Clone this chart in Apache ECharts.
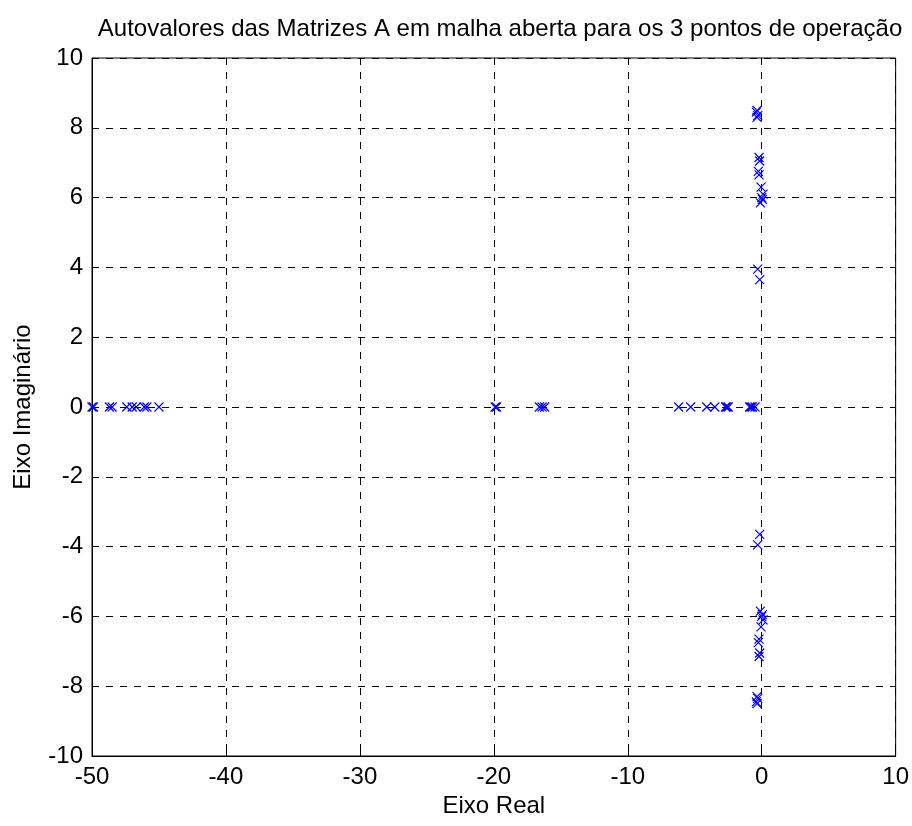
<!DOCTYPE html>
<html>
<head>
<meta charset="utf-8">
<script src="https://cdn.jsdelivr.net/npm/echarts@6/dist/echarts.min.js"></script>
<style>html,body{margin:0;padding:0;background:#fff;}#c{width:912px;height:826px;}</style>
</head>
<body>
<div id="c"></div>
<script>
// Eigenvalues on the real axis (real part)
var realEigs = [-50.0, -49.9, -48.7, -48.5, -47.4, -47.0, -46.7, -46.1, -45.9, -45.0,
  -19.9, -19.8, -16.6, -16.4, -16.2,
  -6.2, -5.3, -4.1, -3.5, -2.7, -2.6, -2.5, -0.9, -0.8, -0.7, -0.5];
// Complex eigenvalues (upper half): real parts and imaginary parts
var cplxReal = [-0.35, -0.4, -0.3, -0.35, -0.2, -0.15, -0.25, -0.2, -0.05, 0.1, 0.0, -0.1, 0.05, -0.3, -0.15];
var cplxImag = [8.5, 8.45, 8.35, 8.3, 7.15, 7.05, 6.75, 6.65, 6.3, 6.1, 6.0, 5.85, 5.95, 3.95, 3.65];
var xTicks = [-50, -40, -30, -20, -10, 0, 10];
var yTicks = [-10, -8, -6, -4, -2, 0, 2, 4, 6, 8, 10];

var pts = [];
realEigs.forEach(function (r) { pts.push([r, 0]); });
cplxReal.forEach(function (r, i) { pts.push([r, cplxImag[i]]); pts.push([r, -cplxImag[i]]); });

var chart = echarts.init(document.getElementById('c'));
var font = 'Liberation Sans, Arial, sans-serif';
chart.setOption({
  animation: false,
  title: {
    text: 'Autovalores das Matrizes A em malha aberta para os 3 pontos de operação',
    left: 495, top: 12, textAlign: 'center',
    textStyle: { fontFamily: font, fontSize: 24, fontWeight: 'normal', color: '#000' }
  },
  grid: { left: 92, right: 15, top: 58, bottom: 70, show: true, borderColor: '#000', borderWidth: 1 },
  xAxis: {
    type: 'value', min: xTicks[0], max: xTicks[xTicks.length - 1], interval: 10,
    name: 'Eixo Real', nameLocation: 'middle', nameGap: 38,
    nameTextStyle: { fontFamily: font, fontSize: 24, color: '#000' },
    axisLine: { show: true, onZero: false, lineStyle: { color: '#000' } },
    axisTick: { show: true, inside: true, length: 5, lineStyle: { color: '#000' } },
    axisLabel: { fontFamily: font, fontSize: 24, color: '#000', margin: 9 },
    splitLine: { show: true, lineStyle: { color: '#000', type: [7, 7], width: 1 } }
  },
  yAxis: {
    type: 'value', min: yTicks[0], max: yTicks[yTicks.length - 1], interval: 2,
    name: 'Eixo Imaginário', nameLocation: 'middle', nameGap: 57, nameRotate: 90,
    nameTextStyle: { fontFamily: font, fontSize: 24, color: '#000' },
    axisLine: { show: true, onZero: false, lineStyle: { color: '#000' } },
    axisTick: { show: true, inside: true, length: 5, lineStyle: { color: '#000' } },
    axisLabel: { fontFamily: font, fontSize: 24, color: '#000', margin: 9 },
    splitLine: { show: true, lineStyle: { color: '#000', type: [7, 7], width: 1 } }
  },
  series: [{
    type: 'scatter',
    data: pts,
    symbol: 'path://M0,0L10,10M10,0L0,10',
    symbolSize: 9,
    itemStyle: { color: 'none', borderColor: '#0000ff', borderWidth: 1.2, opacity: 1 }
  }]
});
</script>
</body>
</html>
